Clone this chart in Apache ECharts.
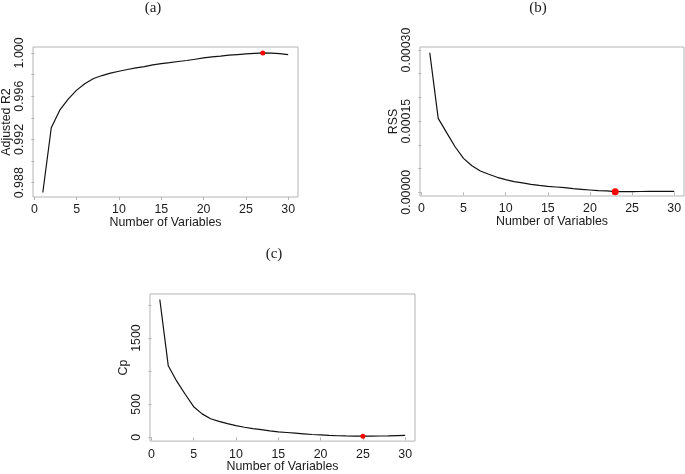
<!DOCTYPE html>
<html>
<head>
<meta charset="utf-8">
<script src="https://cdn.jsdelivr.net/npm/echarts@6.0.0/dist/echarts.min.js"></script>
<style>
  html, body { margin: 0; padding: 0; background: #fff; }
  #chart { width: 685px; height: 474px; }
</style>
</head>
<body>
<div id="chart"></div>
<script>
  // number of variables in the model
  var nVars = [1, 2, 3, 4, 5, 6, 7, 8, 9, 10, 11, 12, 13, 14, 15,
    16, 17, 18, 19, 20, 21, 22, 23, 24, 25, 26, 27, 28, 29, 30]

  // (a) adjusted R2
  var adjR2 = [0.98710, 0.99308, 0.99471, 0.99573, 0.99656, 0.99718, 0.99764, 0.99791, 0.99813, 0.99831,
    0.99847, 0.99862, 0.99874, 0.99889, 0.99902, 0.99911, 0.99921, 0.99930, 0.99942, 0.99954,
    0.99963, 0.99970, 0.99979, 0.99985, 0.99991, 0.99996, 1.00000, 0.99998, 0.99994, 0.99985]

  // (b) RSS
  var rss = [2.942e-4, 1.559e-4, 1.257e-4, 9.6e-5, 7.16e-5, 5.6e-5, 4.5e-5, 3.8e-5, 3.16e-5, 2.67e-5,
    2.25e-5, 1.97e-5, 1.69e-5, 1.47e-5, 1.26e-5, 1.12e-5, 9.8e-6, 7.7e-6, 6.3e-6, 4.9e-6,
    3.5e-6, 2.8e-6, 1.4e-6, 1.5e-6, 1.6e-6, 1.7e-6, 1.8e-6, 1.9e-6, 2.0e-6, 2.1e-6]

  // (c) Cp
  var cp = [2083, 1081, 849, 652, 464, 355, 281, 242, 207, 178,
    153, 133, 118, 99, 84, 74, 64, 54, 44, 37,
    30, 25, 22, 20, 18, 19, 21, 23, 26, 29]

  // chosen model size marked in red
  var bestA = 27
  var bestB = 23
  var bestC = 25

  // ticks and labels
  var xTicks = [0, 5, 10, 15, 20, 25, 30]
  var yTicksA = [0.988, 0.990, 0.992, 0.994, 0.996, 0.998, 1.000]
  var yLabelsA = [0.988, 0.992, 0.996, 1.000]
  var yTicksB = [0, 0.00005, 0.00010, 0.00015, 0.00020, 0.00025, 0.00030]
  var yLabelsB = [0, 0.00015, 0.00030]
  var yTicksC = [0, 500, 1000, 1500, 2000]
  var yLabelsC = [0, 500, 1500]

  var sans = 'Liberation Sans'
  var gray = '#b4b4b4'
  var txt = '#1a1a1a'

  function pairs(ys) {
    return nVars.map(function (x, i) { return [x, ys[i]] })
  }

  function xAxisOf(idx) {
    return {
      gridIndex: idx,
      type: 'value',
      min: -0.16,
      max: 31.16,
      name: 'Number of Variables',
      nameLocation: 'middle',
      nameGap: 19,
      nameTextStyle: { fontFamily: sans, fontSize: 12.4, color: txt },
      axisLine: { show: false },
      splitLine: { show: false },
      axisTick: { show: true, length: 3, customValues: xTicks, lineStyle: { color: gray } },
      axisLabel: { customValues: xTicks, margin: 7, fontFamily: sans, fontSize: 12.4, color: txt }
    }
  }

  function yAxisOf(idx, name, min, max, ticks, labels, fmt) {
    return {
      gridIndex: idx,
      type: 'value',
      min: min,
      max: max,
      name: name,
      nameLocation: 'middle',
      nameRotate: 90,
      nameGap: 20,
      nameTextStyle: { fontFamily: sans, fontSize: 12.4, color: txt },
      axisLine: { show: false },
      splitLine: { show: false },
      axisTick: { show: true, length: 3, customValues: ticks, lineStyle: { color: gray } },
      axisLabel: {
        customValues: labels, rotate: 90, margin: 7,
        fontFamily: sans, fontSize: 12.4, color: txt,
        formatter: fmt
      }
    }
  }

  function lineOf(idx, ys) {
    return {
      type: 'line', xAxisIndex: idx, yAxisIndex: idx,
      data: pairs(ys), showSymbol: false, silent: true,
      lineStyle: { color: '#111', width: 1.2 }
    }
  }

  function bestOf(idx, ys, best, size) {
    return {
      type: 'scatter', xAxisIndex: idx, yAxisIndex: idx, z: 5,
      data: [[best, ys[best - 1]]], symbolSize: size,
      itemStyle: { color: '#ff0000', opacity: 1 }
    }
  }

  var serifTitle = { fontFamily: 'Liberation Serif', fontSize: 15, fontWeight: 'normal', color: txt }

  var chart = echarts.init(document.getElementById('chart'))
  chart.setOption({
    animation: false,
    backgroundColor: '#fff',
    title: [
      { text: '(a)', left: 148, top: -4, textAlign: 'center', textStyle: serifTitle },
      { text: '(b)', left: 533, top: -4, textAlign: 'center', textStyle: serifTitle },
      { text: '(c)', left: 269, top: 242, textAlign: 'center', textStyle: serifTitle }
    ],
    grid: [
      { left: 33, top: 47, width: 265, height: 150, show: true, borderColor: gray, borderWidth: 1 },
      { left: 420, top: 47, width: 264, height: 149, show: true, borderColor: gray, borderWidth: 1 },
      { left: 150, top: 294, width: 265, height: 150, show: true, borderColor: gray, borderWidth: 1 }
    ],
    xAxis: [xAxisOf(0), xAxisOf(1), xAxisOf(2)],
    yAxis: [
      yAxisOf(0, 'Adjusted R2', 0.98668, 1.00055, yTicksA, yLabelsA, function (v) { return v.toFixed(3) }),
      yAxisOf(1, 'RSS', -0.0000078, 0.0003063, yTicksB, yLabelsB, function (v) { return v.toFixed(5) }),
      yAxisOf(2, 'Cp', -56, 2166, yTicksC, yLabelsC, function (v) { return String(v) })
    ],
    series: [
      lineOf(0, adjR2), bestOf(0, adjR2, bestA, 5),
      lineOf(1, rss), bestOf(1, rss, bestB, 7),
      lineOf(2, cp), bestOf(2, cp, bestC, 5)
    ]
  })
</script>
</body>
</html>
